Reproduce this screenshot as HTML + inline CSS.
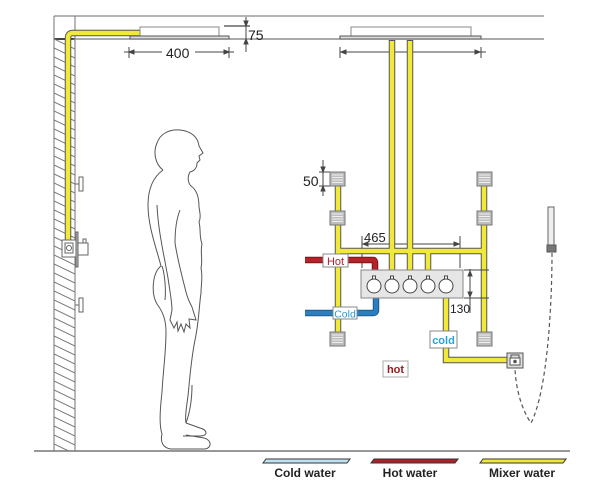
<!DOCTYPE html>
<html><head><meta charset="utf-8"><style>
html,body{margin:0;padding:0;background:#fff;}
svg{display:block;}
text{font-family:"Liberation Sans",Arial,sans-serif;}
</style></head><body>
<svg width="600" height="483" viewBox="0 0 600 483" xmlns="http://www.w3.org/2000/svg">
<defs>
<clipPath id="wallclip"><rect x="54" y="39" width="21" height="412"/></clipPath>
<g id="jet">
<rect x="0" y="0" width="15" height="14" fill="#bdbdbd" stroke="#777" stroke-width="1"/>
<line x1="2" y1="3" x2="13" y2="3" stroke="#eee" stroke-width="1"/>
<line x1="2" y1="5.5" x2="13" y2="5.5" stroke="#eee" stroke-width="1"/>
<line x1="2" y1="8" x2="13" y2="8" stroke="#eee" stroke-width="1"/>
<line x1="2" y1="10.5" x2="13" y2="10.5" stroke="#eee" stroke-width="1"/>
</g>
</defs>

<!-- ceiling -->
<line x1="54" y1="16" x2="544" y2="16" stroke="#888" stroke-width="1.2"/>
<line x1="54" y1="39" x2="544" y2="39" stroke="#777" stroke-width="1.2"/>
<line x1="54" y1="39" x2="75" y2="39" stroke="#444" stroke-width="2"/>
<!-- wall -->
<line x1="54" y1="16" x2="54" y2="451" stroke="#888" stroke-width="1.2"/>
<line x1="75" y1="16" x2="75" y2="451" stroke="#888" stroke-width="1.2"/>
<g clip-path="url(#wallclip)" stroke="#777" stroke-width="1">
<path d="M54,30 l21,10 M54,39 l21,10 M54,48 l21,10 M54,57 l21,10 M54,66 l21,10 M54,75 l21,10 M54,84 l21,10 M54,93 l21,10 M54,102 l21,10 M54,111 l21,10 M54,120 l21,10 M54,129 l21,10 M54,138 l21,10 M54,147 l21,10 M54,156 l21,10 M54,165 l21,10 M54,174 l21,10 M54,183 l21,10 M54,192 l21,10 M54,201 l21,10 M54,210 l21,10 M54,219 l21,10 M54,228 l21,10 M54,237 l21,10 M54,246 l21,10 M54,255 l21,10 M54,264 l21,10 M54,273 l21,10 M54,282 l21,10 M54,291 l21,10 M54,300 l21,10 M54,309 l21,10 M54,318 l21,10 M54,327 l21,10 M54,336 l21,10 M54,345 l21,10 M54,354 l21,10 M54,363 l21,10 M54,372 l21,10 M54,381 l21,10 M54,390 l21,10 M54,399 l21,10 M54,408 l21,10 M54,417 l21,10 M54,426 l21,10 M54,435 l21,10 M54,444 l21,10"/>
</g>
<!-- floor -->
<line x1="34" y1="451" x2="570" y2="451" stroke="#777" stroke-width="1.5"/>

<!-- wall pipe -->
<path d="M68,240 L68,38 Q68,33 73,33 L140,33" fill="none" stroke="#555" stroke-width="6.5"/>
<path d="M68,240 L68,38 Q68,33 73,33 L140,33" fill="none" stroke="#f1e93a" stroke-width="4.5"/>

<!-- left shower head -->
<rect x="140" y="27" width="79" height="9" fill="#fff" stroke="#888" stroke-width="1"/>
<rect x="130" y="36" width="99" height="3" fill="#ddd" stroke="#555" stroke-width="1"/>
<!-- dim 400 -->
<g stroke="#444" stroke-width="1" fill="#444">
<line x1="124" y1="52" x2="162" y2="52"/>
<line x1="195" y1="52" x2="234" y2="52"/>
<line x1="129" y1="47" x2="129" y2="58"/>
<line x1="229" y1="47" x2="229" y2="58"/>
<path d="M129,52 l5,-2 l0,4 z"/>
<path d="M229,52 l-5,-2 l0,4 z"/>
<!-- dim 75 -->
<line x1="246" y1="17" x2="246" y2="52"/>
<line x1="224" y1="26" x2="250" y2="26" stroke-width="1.3"/>
<path d="M246,26 l-2,-5 l4,0 z"/>
<path d="M246,39 l-2,5 l4,0 z"/>
</g>
<text x="166" y="58" font-size="14" fill="#222">400</text>
<text x="248" y="40" font-size="14" fill="#222">75</text>

<!-- right shower head -->
<rect x="351" y="27" width="120" height="9" fill="#fff" stroke="#888" stroke-width="1"/>
<rect x="340" y="36" width="141" height="3" fill="#ddd" stroke="#555" stroke-width="1"/>
<g stroke="#444" stroke-width="1" fill="#444">
<line x1="340" y1="52" x2="486" y2="52"/>
<line x1="340" y1="47" x2="340" y2="58"/>
<line x1="481" y1="47" x2="481" y2="58"/>
<path d="M341,52 l5,-2 l0,4 z"/>
<path d="M480,52 l-5,-2 l0,4 z"/>
</g>

<!-- left wall fittings -->
<g stroke="#666" stroke-width="1" fill="#fff">
<line x1="75" y1="184" x2="80" y2="184"/>
<rect x="79" y="177" width="4" height="14"/>
<line x1="75" y1="305" x2="80" y2="305"/>
<rect x="79" y="298" width="4" height="14"/>
<rect x="62" y="240" width="14" height="17"/>
<rect x="65" y="243" width="8" height="10"/>
<circle cx="69" cy="248" r="2.5"/>
<rect x="76" y="232" width="2" height="35" fill="#bbb"/>
<rect x="78" y="243" width="10" height="12"/>
<rect x="83" y="239" width="3" height="4"/>
</g>

<!-- person -->
<g fill="none" stroke="#555" stroke-width="1">
<path d="M163,170 C155,164 153,152 157,143 C160,134 169,129 180,130 C191,131 198,137 199,146 L203,153 L199,156 L200,160 L197,163 C197,168 194,171 190,172 C187,177 188,183 191,186 C197,190 199,198 199,207 C200,213 201,218 199,222 C201,229 199,236 202,244 C200,252 203,260 201,268 C203,277 201,285 201,293 C199,306 199,322 195,340 C191,360 190,376 188,396 C186,410 185,418 186,423"/>
<path d="M163,170 C152,178 148,190 148,205 C148,226 156,247 161,266 C152,273 151,294 157,304 C163,312 166,320 166,332 C166,352 163,372 162,392 C160,410 159,425 162,434 C160,442 163,448 171,449 L205,449 C212,448 212,440 204,438 L186,435"/>
<path d="M186,423 L200,428 C208,430 208,436 200,436 L183,436"/>
<path d="M157,205 C158,230 164,255 168,278 C170,292 172,302 172,310"/>
<path d="M175,243 C178,262 183,280 186,292 C188,300 191,305 192,307"/>
<path d="M180,210 C176,220 175,232 175,243"/>
<path d="M172,310 L170,320 L174,328 L177,322 L178,331 L181,324 L184,332 L186,324 L190,328 L189,319 L196,320 L192,307"/>
<path d="M162,266 C165,275 166,290 165,300"/>
<path d="M186,423 C190,412 192,400 192,385"/>
</g>

<!-- dim 50 -->
<g stroke="#444" stroke-width="1" fill="#444">
<line x1="323" y1="160" x2="323" y2="196"/>
<line x1="319" y1="172" x2="330" y2="172"/>
<line x1="319" y1="186" x2="330" y2="186"/>
<path d="M323,172 l-2,-5 l4,0 z"/>
<path d="M323,186 l-2,5 l4,0 z"/>
</g>
<text x="303" y="186" font-size="14" fill="#222">50</text>

<!-- dim 465 -->
<g stroke="#444" stroke-width="1" fill="#444">
<line x1="362" y1="244" x2="460" y2="244"/>
<line x1="362" y1="236" x2="362" y2="268"/>
<line x1="460" y1="236" x2="460" y2="268"/>
<path d="M363,244 l5,-2 l0,4 z"/>
<path d="M459,244 l-5,-2 l0,4 z"/>
</g>
<text x="364" y="242" font-size="13" fill="#222">465</text>

<!-- yellow network outlines -->
<g fill="none" stroke="#555" stroke-width="6.5">
<path d="M392,40 L392,278"/>
<path d="M410,40 L410,278"/>
<path d="M338,186 L338,251 L484,251 M484,186 L484,251 M338,251 L338,333 M484,251 L484,333 M428,251 L428,278"/>
<path d="M446,298 L446,360 L508,360"/>
</g>
<g fill="none" stroke="#f1e93a" stroke-width="4.5">
<path d="M392,41 L392,278"/>
<path d="M410,41 L410,278"/>
<path d="M338,186 L338,251 L484,251 M484,186 L484,251 M338,251 L338,333 M484,251 L484,333 M428,251 L428,278"/>
<path d="M446,298 L446,360 L508,360"/>
</g>

<!-- red hot pipe -->
<path d="M305,260 L373,260 Q375,260 375,263 L375,272" fill="none" stroke="#7a1517" stroke-width="6.5"/>
<path d="M305,260 L373,260 Q375,260 375,263 L375,272" fill="none" stroke="#b5232a" stroke-width="4.5"/>
<!-- blue cold pipe -->
<path d="M376,296 L376,310 Q376,313 373,313 L305,313" fill="none" stroke="#1f5a8a" stroke-width="6.5"/>
<path d="M376,296 L376,310 Q376,313 373,313 L305,313" fill="none" stroke="#2b7fc0" stroke-width="4.5"/>

<!-- valve -->
<rect x="361" y="270" width="102" height="28" fill="#e6e6e6" stroke="#888" stroke-width="1"/>
<g fill="#fff" stroke="#444" stroke-width="1">
<rect x="372.5" y="276" width="3" height="4"/>
<rect x="390.5" y="276" width="3" height="4"/>
<rect x="408.5" y="276" width="3" height="4"/>
<rect x="426.5" y="276" width="3" height="4"/>
<rect x="444.5" y="276" width="3" height="4"/>
<circle cx="374" cy="286" r="7"/>
<circle cx="392" cy="286" r="7"/>
<circle cx="410" cy="286" r="7"/>
<circle cx="428" cy="286" r="7"/>
<circle cx="446" cy="286" r="7"/>
</g>

<!-- dim 130 -->
<g stroke="#444" stroke-width="1" fill="#444">
<line x1="470" y1="269" x2="470" y2="313"/>
<line x1="464" y1="270" x2="489" y2="270"/>
<line x1="464" y1="298" x2="489" y2="298"/>
<path d="M470,271 l-2,5 l4,0 z"/>
<path d="M470,297 l-2,-5 l4,0 z"/>
</g>
<text x="450" y="313" font-size="12" fill="#222">130</text>

<!-- jets -->
<use href="#jet" x="330" y="172"/>
<use href="#jet" x="330" y="211"/>
<use href="#jet" x="477" y="172"/>
<use href="#jet" x="477" y="211"/>
<use href="#jet" x="330" y="332"/>
<use href="#jet" x="477" y="332"/>

<!-- labels -->
<rect x="323" y="254" width="25" height="13" fill="#fff" stroke="#888"/>
<text x="335.5" y="265" font-size="11" fill="#b0202a" text-anchor="middle">Hot</text>
<rect x="333" y="307" width="24" height="12" fill="#fff" stroke="#888"/>
<text x="345" y="317.5" font-size="10.5" fill="#2a9ad0" text-anchor="middle">Cold</text>
<rect x="430" y="331" width="27" height="17" fill="#fff" stroke="#888"/>
<text x="443.5" y="344" font-size="11" font-weight="bold" fill="#29a3d8" text-anchor="middle">cold</text>
<rect x="383" y="361" width="25" height="16" fill="#fff" stroke="#aaa"/>
<text x="395.5" y="373" font-size="11" font-weight="bold" fill="#9a1a20" text-anchor="middle">hot</text>

<!-- hand shower holder -->
<rect x="507" y="353" width="16" height="15" fill="#ddd" stroke="#555"/>
<rect x="510" y="358" width="10" height="7" fill="#fff" stroke="#555"/>
<circle cx="515" cy="361.5" r="1.8" fill="#555"/>
<path d="M511,358 l0,-3 l8,0 l0,3" fill="none" stroke="#555"/>
<!-- hand shower -->
<rect x="548" y="207" width="6" height="38" fill="#eee" stroke="#666"/>
<rect x="547" y="245" width="9" height="7" fill="#777" stroke="#555"/>
<path d="M552,253 C552,300 548,390 531,423 C522,410 516,390 515,369" fill="none" stroke="#555" stroke-width="1.2" stroke-dasharray="4,3"/>

<!-- legend -->
<polygon points="266,459 350,459 347,463 263,463" fill="#bfe3f5" stroke="#333" stroke-width="1"/>
<polygon points="374,459 458,459 455,463 371,463" fill="#b0202a" stroke="#333" stroke-width="1"/>
<polygon points="483,459 566,459 563,463 480,463" fill="#f1e93a" stroke="#333" stroke-width="1"/>
<text x="305" y="477" font-size="12" font-weight="bold" fill="#222" text-anchor="middle">Cold water</text>
<text x="410" y="477" font-size="12" font-weight="bold" fill="#222" text-anchor="middle">Hot water</text>
<text x="522" y="477" font-size="12" font-weight="bold" fill="#222" text-anchor="middle">Mixer water</text>
</svg>
</body></html>
